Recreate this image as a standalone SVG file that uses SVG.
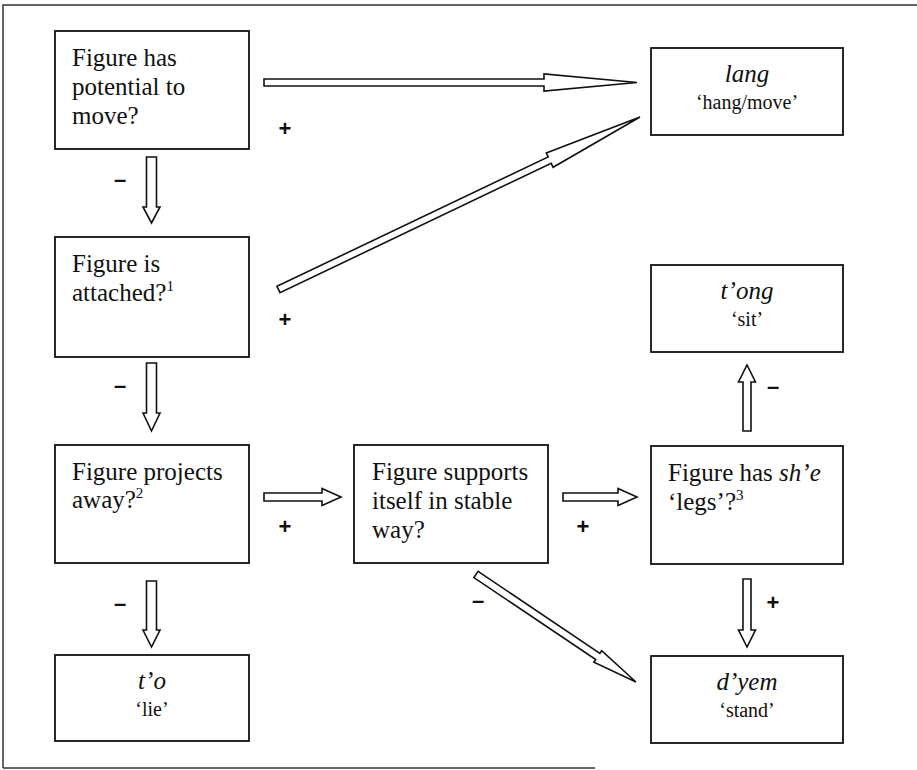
<svg xmlns="http://www.w3.org/2000/svg" width="917" height="770" viewBox="0 0 917 770">
<style>
.frame{fill:none;stroke:#333;stroke-width:1.5}
.box{fill:#fff;stroke:#111;stroke-width:1.8}
.arr{fill:#fff;stroke:#111;stroke-width:1.6;stroke-linejoin:miter}
.q{font-family:"Liberation Serif","Times New Roman",serif;font-size:25px;fill:#111}
.w{font-family:"Liberation Serif","Times New Roman",serif;font-size:25px;font-style:italic;fill:#111;text-anchor:middle}
.g{font-family:"Liberation Serif","Times New Roman",serif;font-size:20px;fill:#111;text-anchor:middle}
.s{font-family:"Liberation Sans","Arial",sans-serif;font-size:22px;font-weight:bold;fill:#111;text-anchor:middle;dominant-baseline:central}
.sup{font-size:15px}
</style>
<rect width="917" height="770" fill="#fff"/>
<path class="frame" d="M3,768 V5 H917 M3,768 H595"/>

<g id="n-move">
<rect class="box" x="55" y="31" width="194" height="118"/>
<text class="q" x="72" y="66">Figure has</text>
<text class="q" x="72" y="95">potential to</text>
<text class="q" x="72" y="124">move?</text>
</g>
<g id="n-lang">
<rect class="box" x="651" y="48" width="192" height="87"/>
<text class="w" x="747" y="82">lang</text>
<text class="g" x="747" y="109">‘hang/move’</text>
</g>
<g id="n-attached">
<rect class="box" x="55" y="237" width="194" height="120"/>
<text class="q" x="72" y="272">Figure is</text>
<text class="q" x="72" y="301">attached?<tspan class="sup" dy="-10">1</tspan></text>
</g>
<g id="n-tong">
<rect class="box" x="651" y="265" width="192" height="87"/>
<text class="w" x="747" y="299">t’ong</text>
<text class="g" x="747" y="326">‘sit’</text>
</g>
<g id="n-projects">
<rect class="box" x="55" y="445" width="194" height="118"/>
<text class="q" x="72" y="480">Figure projects</text>
<text class="q" x="72" y="508">away?<tspan class="sup" dy="-10">2</tspan></text>
</g>
<g id="n-supports">
<rect class="box" x="354" y="445" width="194" height="118"/>
<text class="q" x="372" y="480">Figure supports</text>
<text class="q" x="372" y="509">itself in stable</text>
<text class="q" x="372" y="538">way?</text>
</g>
<g id="n-legs">
<rect class="box" x="651" y="446" width="192" height="118"/>
<text class="q" x="668" y="481">Figure has <tspan font-style="italic">sh’e</tspan></text>
<text class="q" x="668" y="510">‘legs’?<tspan class="sup" dy="-10">3</tspan></text>
</g>
<g id="n-to">
<rect class="box" x="55" y="655" width="194" height="86"/>
<text class="w" x="152" y="689">t’o</text>
<text class="g" x="152" y="716">‘lie’</text>
</g>
<g id="n-dyem">
<rect class="box" x="651" y="656" width="192" height="87"/>
<text class="w" x="747" y="690">d’yem</text>
<text class="g" x="747" y="717">‘stand’</text>
</g>

<g id="connectors">
<polygon class="arr" points="264,79 544,79 544,74 637,82.5 544,91 544,86 264,86"/>
<polygon class="arr" points="277.0,286.3 548.2,156.9 546.3,152.9 640,117 553.1,167.3 551.2,163.3 280.0,292.7"/>
<polygon class="arr" points="146.5,157 156.5,157 156.5,207 160,207 151.5,223 143,207 146.5,207"/>
<polygon class="arr" points="146.5,363 156.5,363 156.5,413 160,413 151.5,431 143,413 146.5,413"/>
<polygon class="arr" points="146.5,581 156.5,581 156.5,630 160,630 151.5,647 143,630 146.5,630"/>
<polygon class="arr" points="264,493 322,493 322,488.5 341,497 322,505.5 322,501 264,501"/>
<polygon class="arr" points="563,493 618,493 618,488.5 637,497 618,505.5 618,501 563,501"/>
<polygon class="arr" points="743,431 743,382 738.5,382 747,365 755.5,382 751,382 751,431"/>
<polygon class="arr" points="743,579 751,579 751,630 755.5,630 747,647 738.5,630 743,630"/>
<polygon class="arr" points="478.1,571.4 599.9,653.3 601.7,650.6 636,682 593.9,662.2 595.7,659.5 473.9,577.6"/>
<text class="s" x="285" y="128">+</text>
<text class="s" x="285" y="319">+</text>
<text class="s" x="285" y="526">+</text>
<text class="s" x="583" y="526">+</text>
<text class="s" x="773" y="602">+</text>
<text class="s" x="120" y="179">–</text>
<text class="s" x="120" y="385">–</text>
<text class="s" x="120" y="603">–</text>
<text class="s" x="773" y="386">–</text>
<text class="s" x="478" y="600">–</text>
</g>
</svg>
